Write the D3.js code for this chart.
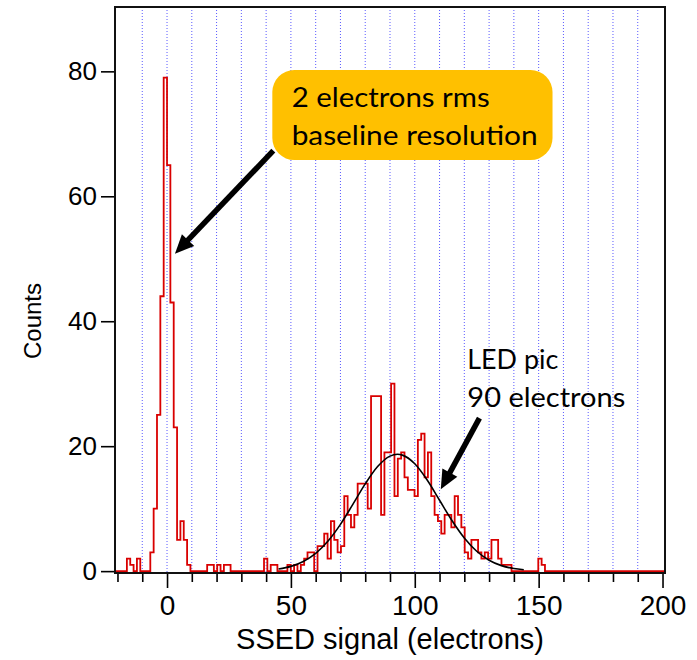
<!DOCTYPE html>
<html>
<head>
<meta charset="utf-8">
<script src="https://cdn.jsdelivr.net/npm/d3@7"></script>
<style>
  body { margin: 0; background: #fff; }
</style>
</head>
<body>
<div id="chart"></div>
<script>
// histogram of the SSED signal, one count per bin of 1.35 electrons starting at -20.25
const binStart = -20.25;
const binWidth = 1.35;
const counts = [
  0, 0, 0, 2, 1, 0, 2, 0, 0, 0,
  3, 10, 25, 44, 79, 65, 43, 23, 5, 8,
  5, 1, 0, 0, 0, 0, 0, 1, 1, 0,
  1, 0, 1, 1, 0, 0, 0, 0, 0, 0,
  0, 0, 0, 0, 2, 0, 1, 1, 0, 0,
  0, 1, 0, 1, 0, 1, 2, 3, 3, 0,
  4, 4, 6, 2, 8, 5, 3, 4, 12, 9,
  7, 9, 14, 14, 14, 10, 28, 28, 28, 9,
  19, 19, 30, 12, 18, 19, 15, 13, 13, 12,
  21, 22, 15, 19, 12, 9, 8, 6, 9, 9,
  7, 12, 9, 7, 3, 2, 5, 5, 3, 2,
  3, 2, 5, 5, 2, 1, 1, 1, 0, 0,
  0, 0, 0, 0, 0, 0, 2, 1, 0, 0,
  0, 0, 0, 0, 0, 0, 0, 0, 0, 0,
  0, 0, 0, 0, 0, 0, 0, 0, 0, 0,
  0, 0, 0, 0, 0, 0, 0, 0, 0, 0,
  0, 0, 0, 0
];

// gaussian fit of the LED peak
const fitX = [45, 50, 55, 60, 65, 70, 75, 80, 85, 90, 93, 95, 100, 105, 110, 115, 120, 125, 130, 135, 140, 144];
const fitY = [0.35, 0.76, 1.54, 2.84, 4.82, 7.49, 10.68, 13.96, 16.74, 18.41, 18.7, 18.57, 17.18, 14.58, 11.34, 8.10, 5.30, 3.18, 1.75, 0.88, 0.41, 0.21];

// ticks and grid
const xMajor = [0, 50, 100, 150, 200];
const xMinor = [-20, -10, 10, 20, 30, 40, 60, 70, 80, 90, 110, 120, 130, 140, 160, 170, 180, 190];
const yMajor = [0, 20, 40, 60, 80];
const gridX = [-10, 0, 10, 20, 30, 40, 50, 60, 70, 80, 90, 100, 110, 120, 130, 140, 150, 160, 170, 180, 190];

const width = 697;
const height = 660;
const pLeft = 115, pRight = 665, pTop = 7, pBottom = 573;
const axisFont = "'Liberation Sans', Arial, Helvetica, sans-serif";
const noteFont = "Lato, 'Open Sans', sans-serif";

const svg = d3.select("#chart")
    .append("svg")
    .attr("width", width)
    .attr("height", height);

var x = d3.scaleLinear().domain([-21, 201]).range([pLeft, pRight]);
var y = d3.scaleLinear().domain([-0.3, 90.3]).range([pBottom, pTop]);

svg.append("clipPath").attr("id", "plot")
    .append("rect")
    .attr("x", pLeft).attr("y", pTop)
    .attr("width", pRight - pLeft).attr("height", pBottom - pTop);

//grid
svg.selectAll("line.grid")
    .data(gridX)
    .enter()
    .append("line")
    .attr("class", "grid")
    .attr("x1", d => x(d)).attr("x2", d => x(d))
    .attr("y1", pTop).attr("y2", pBottom)
    .attr("stroke", "#5a5aff")
    .attr("stroke-width", 1)
    .attr("stroke-dasharray", "1,2");

//histogram as steps
var steps = [[-21, 0]];
counts.forEach((c, i) => steps.push([binStart + i * binWidth, c]));
steps.push([binStart + counts.length * binWidth, 0]);

svg.append("path")
    .datum(steps)
    .attr("clip-path", "url(#plot)")
    .attr("d", d3.line().x(d => x(d[0])).y(d => y(d[1])).curve(d3.curveStepAfter))
    .attr("fill", "none")
    .attr("stroke", "#d90000")
    .attr("stroke-width", 1.8);

//fit
svg.append("path")
    .datum(fitX.map((v, i) => [v, fitY[i]]))
    .attr("d", d3.line().x(d => x(d[0])).y(d => y(d[1])).curve(d3.curveMonotoneX))
    .attr("fill", "none")
    .attr("stroke", "#000")
    .attr("stroke-width", 1.6);

//axes
var minorAxis = svg.append("g")
    .attr("transform", `translate(0,${pBottom})`)
    .call(d3.axisBottom(x).tickValues(xMinor).tickSize(9).tickFormat(""));
minorAxis.select(".domain").remove();
minorAxis.selectAll("line").attr("stroke-width", 1.6);

var xAxis = svg.append("g")
    .attr("transform", `translate(0,${pBottom})`)
    .call(d3.axisBottom(x).tickValues(xMajor).tickSize(15).tickPadding(7));
xAxis.select(".domain").remove();
xAxis.selectAll("line").attr("stroke-width", 1.6);
xAxis.selectAll("text").attr("font-size", 28).attr("font-family", axisFont);

var yAxis = svg.append("g")
    .attr("transform", `translate(${pLeft},0)`)
    .call(d3.axisLeft(y).tickValues(yMajor).tickSize(14).tickPadding(4));
yAxis.select(".domain").remove();
yAxis.selectAll("line").attr("stroke-width", 1.6);
yAxis.selectAll("text").attr("font-size", 26).attr("font-family", axisFont);

//frame
svg.append("rect")
    .attr("x", pLeft).attr("y", pTop)
    .attr("width", pRight - pLeft).attr("height", pBottom - pTop)
    .attr("fill", "none")
    .attr("stroke", "#111")
    .attr("stroke-width", 2);

//axis titles
svg.append("text")
    .attr("x", (pLeft + pRight) / 2)
    .attr("y", 649)
    .attr("text-anchor", "middle")
    .attr("font-family", axisFont)
    .attr("font-size", 29)
    .text("SSED signal (electrons)");

svg.append("text")
    .attr("transform", "translate(41,321) rotate(-90)")
    .attr("text-anchor", "middle")
    .attr("font-family", axisFont)
    .attr("font-size", 24)
    .text("Counts");

//annotations
function arrow(x1, y1, x2, y2) {
    var dx = x2 - x1, dy = y2 - y1;
    var len = Math.sqrt(dx * dx + dy * dy);
    var ux = dx / len, uy = dy / len;
    var headLen = 19, headHalf = 8.5;
    var bx = x2 - ux * headLen, by = y2 - uy * headLen;
    svg.append("line")
        .attr("x1", x1).attr("y1", y1)
        .attr("x2", bx + ux * 2).attr("y2", by + uy * 2)
        .attr("stroke", "#000")
        .attr("stroke-width", 5.5);
    svg.append("path")
        .attr("d", `M${x2},${y2}L${bx - uy * headHalf},${by + ux * headHalf}L${bx + uy * headHalf},${by - ux * headHalf}Z`)
        .attr("fill", "#000");
}

svg.append("rect")
    .attr("x", x(42.5)).attr("y", y(80.2))
    .attr("width", x(155.6) - x(42.5))
    .attr("height", y(65.8) - y(80.2))
    .attr("rx", 22)
    .attr("fill", "#ffc000");

svg.append("text")
    .attr("x", x(50.3)).attr("y", y(74.3))
    .attr("font-family", noteFont).attr("font-size", 27)
    .attr("textLength", 198).attr("lengthAdjust", "spacingAndGlyphs")
    .text("2 electrons rms");
svg.append("text")
    .attr("x", x(50.3)).attr("y", y(68.2))
    .attr("font-family", noteFont).attr("font-size", 27)
    .attr("textLength", 246).attr("lengthAdjust", "spacingAndGlyphs")
    .text("baseline resolution");

svg.append("text")
    .attr("x", x(121.2)).attr("y", y(32.4))
    .attr("font-family", noteFont).attr("font-size", 27)
    .attr("textLength", 91).attr("lengthAdjust", "spacingAndGlyphs")
    .text("LED pic");
svg.append("text")
    .attr("x", x(121.2)).attr("y", y(26.3))
    .attr("font-family", noteFont).attr("font-size", 27)
    .attr("textLength", 158).attr("lengthAdjust", "spacingAndGlyphs")
    .text("90 electrons");

arrow(x(42.9), y(67.3), x(3.2), y(50.8));
arrow(x(126.1), y(24.5), x(110.5), y(13.1));
</script>
</body>
</html>
